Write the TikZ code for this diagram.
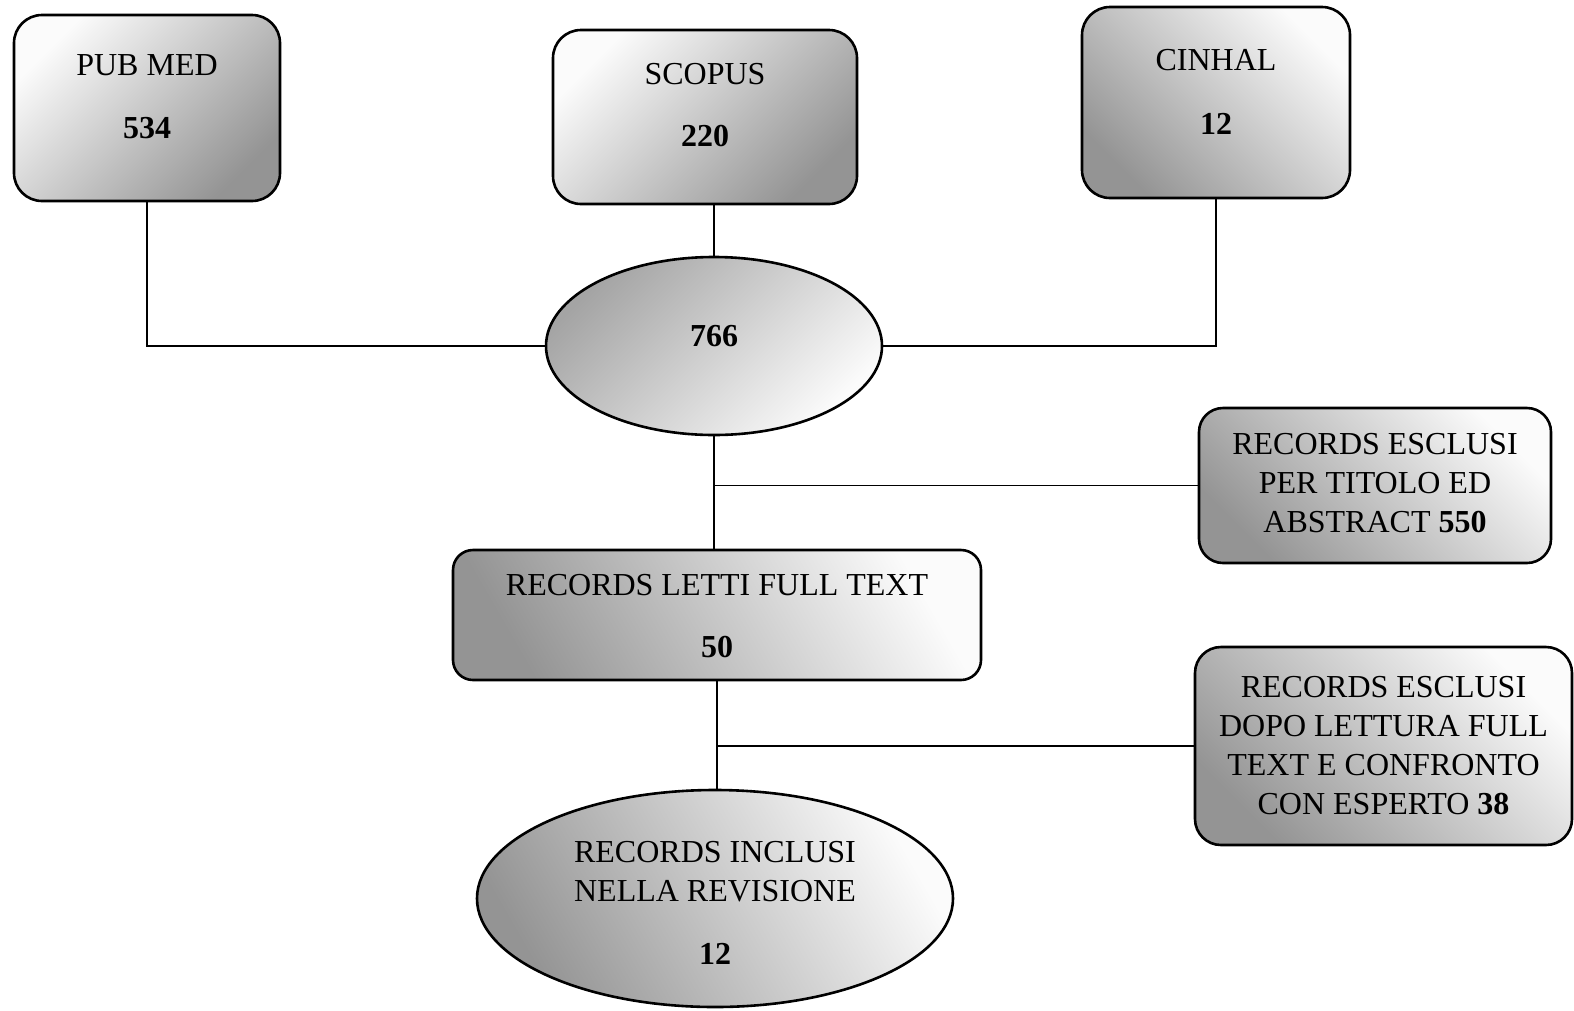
\documentclass[tikz,border=0pt]{standalone}
\usepackage{fontspec}
\setmainfont{Liberation Serif}
\usetikzlibrary{shapes.geometric,calc}
\definecolor{gdark}{gray}{0.58}
\definecolor{glight}{gray}{0.985}
\tikzset{
  box/.style={draw=black, line width=2.6pt, rounded corners=28pt, inner sep=0pt},
  oval/.style={draw=black, line width=2.6pt, ellipse, inner sep=0pt},
  lightTL/.style={top color=glight, bottom color=gdark, shading angle=45},
  lightTR/.style={top color=glight, bottom color=gdark, shading angle=-45},
  lightR/.style={top color=glight, bottom color=gdark, shading angle=-60},
  darkTL/.style={top color=gdark!85, bottom color=glight, shading angle=45},
  txt/.style={font=\fontsize{32}{39}\selectfont, align=center, inner sep=0pt},
  conn/.style={draw=black, line width=1.3pt}
}
\begin{document}
\begin{tikzpicture}[x=1pt,y=-1pt]
\useasboundingbox (0,0) rectangle (1574,1010);
% shapes
\node[box, lightTL, minimum width=266pt, minimum height=186pt] (pub) at (147,108) {};
\node[box, lightTL, minimum width=304pt, minimum height=174pt] (sco) at (705,117) {};
\node[box, lightTR, minimum width=268pt, minimum height=191pt] (cin) at (1216,102.5) {};
\node[oval, darkTL, minimum width=336pt, minimum height=178pt] (tot) at (714,346) {};
\node[box, lightTR, rounded corners=24pt, minimum width=352pt, minimum height=155pt] (exc1) at (1375,485.5) {};
\node[box, lightR, rounded corners=20pt, minimum width=528pt, minimum height=130pt] (letti) at (717,615) {};
\node[box, lightTR, rounded corners=26pt, minimum width=377pt, minimum height=198pt] (exc2) at (1383.5,746) {};
\node[oval, lightR, minimum width=476pt, minimum height=217pt] (incl) at (715,898.5) {};
% texts
\node[txt] (pubT) at (147,65) {PUB MED};
\node[txt] (pubN) at (147,128.5) {\bfseries 534};
\node[txt] (scoT) at (705,74) {SCOPUS};
\node[txt] (scoN) at (705,136.5) {\bfseries 220};
\node[txt] (cinT) at (1216,60) {CINHAL};
\node[txt] (cinN) at (1216,123.5) {\bfseries 12};
\node[txt] (totN) at (714,336) {\bfseries 766};
\node[txt] (exc1T) at (1375,483.5) {RECORDS ESCLUSI\\PER TITOLO ED\\ABSTRACT \textbf{550}};
\node[txt] (lettiT) at (717,585) {RECORDS LETTI FULL TEXT};
\node[txt] (lettiN) at (717,647.5) {\bfseries 50};
\node[txt] (exc2T) at (1383.5,745.5) {RECORDS ESCLUSI\\DOPO LETTURA FULL\\TEXT E CONFRONTO\\CON ESPERTO \textbf{38}};
\node[txt] (inclT) at (715,871.5) {RECORDS INCLUSI\\NELLA REVISIONE};
\node[txt] (inclN) at (715,954) {\bfseries 12};
% connectors
\draw[conn] (pub.south) |- (tot.west);
\draw[conn] (tot.north |- sco.south) -- (tot.north);
\draw[conn] (cin.south) |- (tot.east);
\draw[conn] (tot.south) -- (tot.south |- letti.north);
\coordinate (j1) at (tot.south |- exc1.west);
\draw[conn] (j1) -- (exc1.west);
\draw[conn] (letti.south) -- (letti.south |- incl.north);
\coordinate (j2) at (letti.south |- exc2.west);
\draw[conn] (j2) -- (exc2.west);
\end{tikzpicture}
\end{document}
